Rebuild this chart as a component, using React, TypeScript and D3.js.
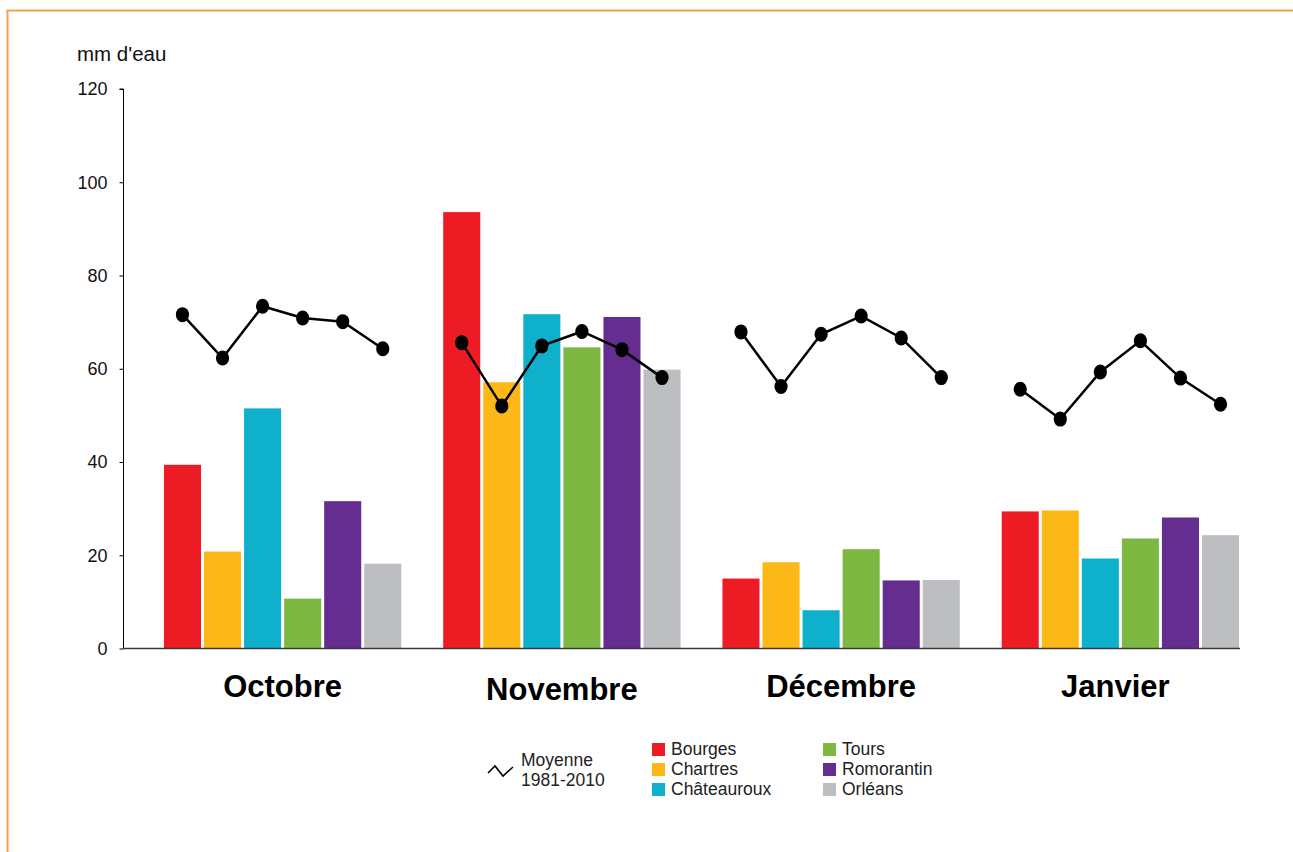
import React, { useEffect, useRef } from "react";
import * as d3 from "d3";

const months = ["Octobre", "Novembre", "Décembre", "Janvier"];
const stations = ["Bourges", "Chartres", "Châteauroux", "Tours", "Romorantin", "Orléans"];
const colors = ["#ED1C24", "#FBB817", "#0EB0CC", "#7DB843", "#662D91", "#BCBEC1"];

// cumul mensuel (mm d'eau), une ligne par station
const bourges = [39.4, 93.6, 15.0, 29.4];
const chartres = [20.8, 57.1, 18.5, 29.6];
const chateauroux = [51.5, 71.7, 8.2, 19.3];
const tours = [10.7, 64.6, 21.3, 23.6];
const romorantin = [31.6, 71.1, 14.6, 28.1];
const orleans = [18.2, 59.8, 14.7, 24.3];

// moyennes 1981-2010, par mois puis par station
const moyOctobre = [71.6, 62.3, 73.4, 70.9, 70.1, 64.3];
const moyNovembre = [65.6, 52.0, 64.9, 68.0, 64.1, 58.1];
const moyDecembre = [67.9, 56.2, 67.4, 71.3, 66.6, 58.1];
const moyJanvier = [55.6, 49.2, 59.3, 66.0, 58.0, 52.4];

const yTicks = [0, 20, 40, 60, 80, 100, 120];

const values = [bourges, chartres, chateauroux, tours, romorantin, orleans];
const normals = [moyOctobre, moyNovembre, moyDecembre, moyJanvier];

const App = () => {
  const ref = useRef<SVGSVGElement>(null);

  useEffect(() => {
    const svg = d3.select(ref.current);
    svg.selectAll("*").remove();

    const width = 1293;
    const height = 852;
    const font = "'Liberation Sans', Arial, sans-serif";
    svg.attr("width", width).attr("height", height).style("font-family", font);

    // cadre orange
    svg.append("path")
      .attr("d", `M7.5,${height} V10.5 H${width}`)
      .attr("fill", "none")
      .attr("stroke", "#F8A04C")
      .attr("stroke-width", 2);

    const y = d3.scaleLinear().domain([0, 120]).range([648.5, 89]);

    const x0 = d3.scaleBand()
      .domain(months)
      .range([143, 1260])
      .paddingInner(0.15)
      .paddingOuter(0.075);

    const x1 = d3.scaleBand()
      .domain(stations)
      .range([0, x0.bandwidth()])
      .paddingInner(0.075);

    // axe Y
    const yAxis = svg.append("g")
      .attr("transform", "translate(123.5,0)")
      .call(d3.axisLeft(y).tickValues(yTicks).tickSize(4).tickPadding(12).tickFormat(d3.format("d")));
    yAxis.select(".domain").attr("d", `M-4,${y(120)}H0V${y(0)}`).attr("stroke", "#000");
    yAxis.selectAll("text").attr("font-size", 18).attr("font-family", font).attr("fill", "#111");

    svg.append("text")
      .attr("x", 77)
      .attr("y", 61)
      .attr("font-size", 20.5)
      .attr("fill", "#111")
      .text("mm d'eau");

    // barres
    const groups = svg.append("g")
      .selectAll("g")
      .data(months)
      .join("g")
      .attr("transform", (m) => `translate(${x0(m)},0)`);

    groups.selectAll("rect")
      .data((m, mi) => stations.map((s, si) => ({ s, si, v: values[si][mi] })))
      .join("rect")
      .attr("x", (d) => x1(d.s))
      .attr("y", (d) => y(d.v))
      .attr("width", x1.bandwidth())
      .attr("height", (d) => y(0) - y(d.v))
      .attr("fill", (d) => colors[d.si]);

    // axe X
    svg.append("line")
      .attr("x1", 123)
      .attr("x2", 1240)
      .attr("y1", y(0))
      .attr("y2", y(0))
      .attr("stroke", "#3a3a3a")
      .attr("stroke-width", 1.5);

    // moyennes
    const line = d3.line<number>()
      .x((d, i) => x1(stations[i]) + x1.bandwidth() / 2)
      .y((d) => y(d));

    groups.append("path")
      .datum((m, mi) => normals[mi])
      .attr("d", line)
      .attr("fill", "none")
      .attr("stroke", "#000")
      .attr("stroke-width", 2.5);

    groups.selectAll("ellipse")
      .data((m, mi) => normals[mi])
      .join("ellipse")
      .attr("cx", (d, i) => x1(stations[i]) + x1.bandwidth() / 2)
      .attr("cy", (d) => y(d))
      .attr("rx", 6.6)
      .attr("ry", 7.5)
      .attr("fill", "#000");

    // libellés des mois
    svg.selectAll(".month")
      .data(months)
      .join("text")
      .attr("class", "month")
      .attr("x", (m) => x0(m) + x0.bandwidth() / 2 + (m === "Janvier" ? -5 : 0))
      .attr("y", (m) => (m === "Novembre" ? 700 : 697))
      .attr("text-anchor", "middle")
      .attr("font-size", 31)
      .attr("font-weight", "bold")
      .attr("fill", "#000")
      .text((m) => m);

    // légende
    const legend = svg.append("g").attr("font-size", 17.5).attr("fill", "#222");

    legend.append("polyline")
      .attr("points", "488,773 495,766 503,776 513,767")
      .attr("fill", "none")
      .attr("stroke", "#000")
      .attr("stroke-width", 1.6);
    legend.append("text").attr("x", 521).attr("y", 766).text("Moyenne");
    legend.append("text").attr("x", 521).attr("y", 786).text("1981-2010");

    const items = legend.selectAll(".item")
      .data(stations)
      .join("g")
      .attr("class", "item")
      .attr("transform", (s, i) => `translate(${i < 3 ? 652 : 823},${743 + (i % 3) * 20})`);

    items.append("rect")
      .attr("width", 13)
      .attr("height", 13)
      .attr("fill", (s, i) => colors[i]);

    items.append("text")
      .attr("x", 19)
      .attr("y", 12)
      .text((s) => s);
  }, []);

  return <svg ref={ref} style={{ position: "absolute", left: 0, top: 0, display: "block" }}></svg>;
};

export default App;
